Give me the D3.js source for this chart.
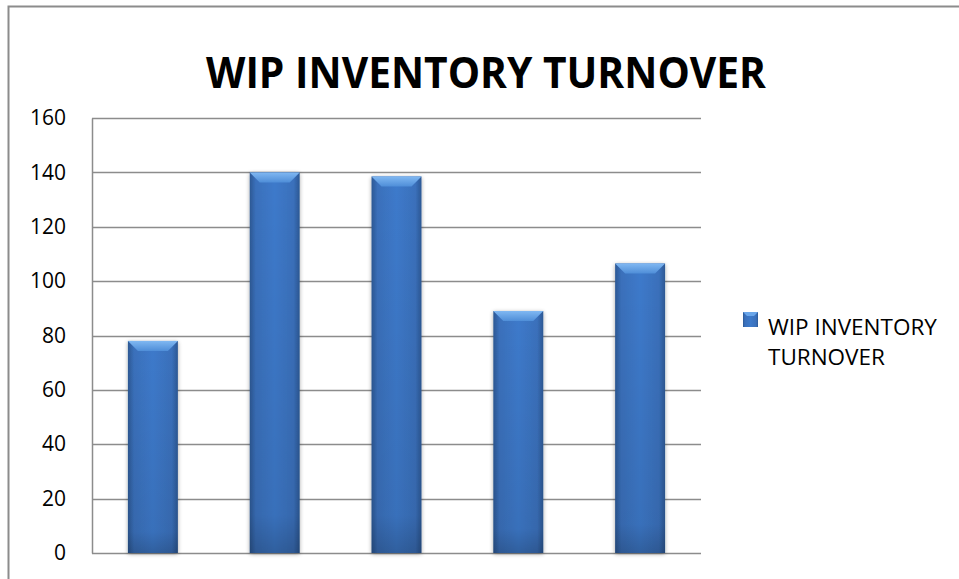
<!DOCTYPE html>
<html>
<head>
<meta charset="utf-8">
<script src="https://cdn.jsdelivr.net/npm/d3@7"></script>
<style>
  body { margin: 0; background: #fff; }
  svg { display: block; }
</style>
</head>
<body>
<div id="chart"></div>
<script>
const width = 959;
const height = 579;

const categories = ["1", "2", "3", "4", "5"];
const values = [78, 140, 138.5, 89, 106.5];
const yTicks = [0, 20, 40, 60, 80, 100, 120, 140, 160];
const title = "WIP INVENTORY  TURNOVER";
const seriesName = ["WIP INVENTORY", "TURNOVER"];

const margin = { top: 118, left: 92, bottom: 26, right: 258 };

const svg = d3.select("#chart").append("svg")
    .attr("width", width)
    .attr("height", height);

// gradients for the bevelled bars
const defs = svg.append("defs");
const hGrad = defs.append("linearGradient").attr("id", "barH")
    .attr("x1", "0%").attr("x2", "100%").attr("y1", "0%").attr("y2", "0%");
hGrad.append("stop").attr("offset", "0%").attr("stop-color", "#2c5894");
hGrad.append("stop").attr("offset", "12%").attr("stop-color", "#3a70bb");
hGrad.append("stop").attr("offset", "50%").attr("stop-color", "#3d7acb");
hGrad.append("stop").attr("offset", "88%").attr("stop-color", "#3a70bb");
hGrad.append("stop").attr("offset", "100%").attr("stop-color", "#2c5894");

const vGrad = defs.append("linearGradient").attr("id", "barV")
    .attr("x1", "0%").attr("x2", "0%").attr("y1", "0%").attr("y2", "100%");
vGrad.append("stop").attr("offset", "0%").attr("stop-color", "#000").attr("stop-opacity", 0);
vGrad.append("stop").attr("offset", "90%").attr("stop-color", "#000").attr("stop-opacity", 0.08);
vGrad.append("stop").attr("offset", "100%").attr("stop-color", "#000").attr("stop-opacity", 0.22);

const bevelGrad = defs.append("linearGradient").attr("id", "bevel")
    .attr("x1", "0%").attr("x2", "0%").attr("y1", "0%").attr("y2", "100%");
bevelGrad.append("stop").attr("offset", "0%").attr("stop-color", "#80b8f2");
bevelGrad.append("stop").attr("offset", "100%").attr("stop-color", "#4f8ed8");

const shadow = defs.append("filter").attr("id", "shadow")
    .attr("x", "-20%").attr("y", "-5%").attr("width", "140%").attr("height", "110%");
shadow.append("feGaussianBlur").attr("in", "SourceAlpha").attr("stdDeviation", 2);
shadow.append("feOffset").attr("dx", 0).attr("dy", 1).attr("result", "blur");
shadow.append("feComponentTransfer").append("feFuncA").attr("type", "linear").attr("slope", 0.35);
const merge = shadow.append("feMerge");
merge.append("feMergeNode");
merge.append("feMergeNode").attr("in", "SourceGraphic");

// outer frame (top and left edges visible)
svg.append("path")
    .attr("d", `M8.5,${height} V6.5 H${width}`)
    .attr("fill", "none")
    .attr("stroke", "#8c8c8c")
    .attr("stroke-width", 2);

svg.append("text")
    .attr("x", 486)
    .attr("y", 88)
    .attr("text-anchor", "middle")
    .attr("font-family", "'Open Sans', sans-serif")
    .attr("font-weight", 700)
    .attr("font-size", 43)
    .attr("textLength", 560)
    .attr("lengthAdjust", "spacingAndGlyphs")
    .attr("fill", "#000")
    .text(title);

const xScale = d3.scaleBand()
    .domain(categories)
    .range([margin.left, width - margin.right])
    .paddingInner(0.59)
    .paddingOuter(0.295);

const yScale = d3.scaleLinear()
    .domain([0, 160])
    .range([height - margin.bottom, margin.top]);

// gridlines
svg.append("g")
    .selectAll("line")
    .data(yTicks)
    .join("line")
    .attr("x1", margin.left)
    .attr("x2", width - margin.right)
    .attr("y1", d => Math.round(yScale(d)) + 0.5)
    .attr("y2", d => Math.round(yScale(d)) + 0.5)
    .attr("stroke", "#8c8c8c")
    .attr("stroke-width", 1.5);

// y axis
const yAxis = d3.axisLeft(yScale).tickValues(yTicks).tickSize(0).tickPadding(26);
const gy = svg.append("g")
    .attr("transform", `translate(${margin.left},0)`)
    .call(yAxis);
gy.select(".domain")
    .attr("stroke", "#8c8c8c")
    .attr("stroke-width", 1.5);
gy.selectAll("text")
    .attr("font-family", "'Open Sans', sans-serif")
    .attr("font-size", 21)
    .attr("fill", "#000");

// bars
const bars = svg.append("g")
    .selectAll("g")
    .data(values)
    .join("g");

bars.append("rect")
    .attr("x", (d, i) => xScale(categories[i]))
    .attr("y", d => yScale(d))
    .attr("width", xScale.bandwidth())
    .attr("height", d => yScale(0) - yScale(d))
    .attr("fill", "url(#barH)")
    .attr("filter", "url(#shadow)");

bars.append("rect")
    .attr("x", (d, i) => xScale(categories[i]))
    .attr("y", d => yScale(d))
    .attr("width", xScale.bandwidth())
    .attr("height", d => yScale(0) - yScale(d))
    .attr("fill", "url(#barV)");

// bevelled top
const bevel = 10;
bars.append("path")
    .attr("d", (d, i) => {
        const x0 = xScale(categories[i]);
        const x1 = x0 + xScale.bandwidth();
        const y0 = yScale(d);
        return `M${x0},${y0} H${x1} L${x1 - bevel},${y0 + bevel} H${x0 + bevel} Z`;
    })
    .attr("fill", "url(#bevel)");

// legend
const legend = svg.append("g").attr("transform", "translate(743,312)");
legend.append("rect")
    .attr("width", 15)
    .attr("height", 15)
    .attr("fill", "url(#barH)");
legend.append("path")
    .attr("d", "M0,0 H15 L11,4 H4 Z")
    .attr("fill", "#6aa6ea");
legend.append("text")
    .attr("x", 25)
    .attr("y", 23)
    .attr("font-family", "'Open Sans', sans-serif")
    .attr("font-size", 22.5)
    .attr("fill", "#000")
    .selectAll("tspan")
    .data(seriesName)
    .join("tspan")
    .attr("x", 25)
    .attr("dy", (d, i) => i === 0 ? 0 : 30)
    .text(d => d);
</script>
</body>
</html>
